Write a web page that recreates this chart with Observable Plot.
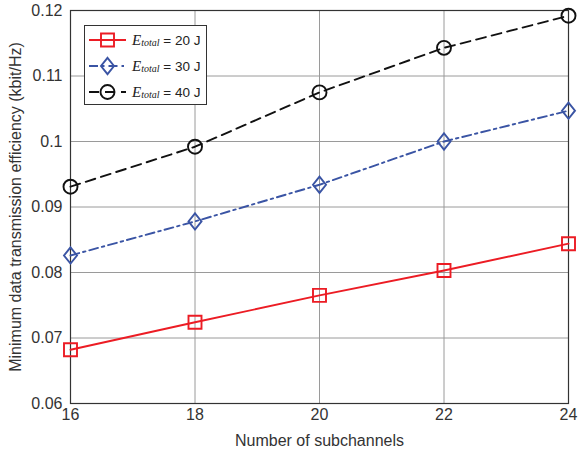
<!DOCTYPE html>
<html><head><meta charset="utf-8">
<script src="https://cdn.jsdelivr.net/npm/d3@7"></script>
<script src="https://cdn.jsdelivr.net/npm/@observablehq/plot@0.6"></script>
<style>
body{margin:0;background:#fff;}
#wrap{position:relative;width:578px;height:460px;font-family:"Liberation Sans",Arial,sans-serif;}
#legend{position:absolute;left:84px;top:25px;width:121px;height:78px;border:1px solid #333;background:#fff;box-sizing:content-box;}
.row{position:absolute;left:0;height:24px;width:121px;}
.row svg{position:absolute;left:0;top:0;}
.row .t{position:absolute;left:47px;top:4px;font-size:13.5px;color:#222;white-space:nowrap;}
.E{font-family:"Liberation Serif","Times New Roman",serif;font-style:italic;font-size:15px;}
.sub{font-family:"Liberation Serif","Times New Roman",serif;font-style:italic;font-size:10px;position:relative;top:1px;}
#chart g[aria-label="x-axis tick label"] text, #chart g[aria-label="y-axis tick label"] text{font-size:16px !important;}
#chart g[aria-label="x-axis label"] text, #chart g[aria-label="y-axis label"] text{font-size:16px !important;}
</style></head>
<body><div id="wrap"><div id="chart"></div><div id="legend"></div></div>
<script>
const subchannels = [16, 18, 20, 22, 24];
const e20 = [0.0682, 0.0724, 0.0765, 0.0803, 0.0844];
const e30 = [0.0826, 0.0878, 0.0934, 0.1000, 0.1047];
const e40 = [0.0931, 0.0992, 0.1075, 0.1143, 0.1192];
const seriesNames = ["20 J", "30 J", "40 J"];
const yTicks = [0.06, 0.07, 0.08, 0.09, 0.1, 0.11, 0.12];
const yTickLabels = ["0.06", "0.07", "0.08", "0.09", "0.1", "0.11", "0.12"];

const squareSym = {draw(ctx, size){const r=Math.sqrt(size/Math.PI); ctx.rect(-r,-r,2*r,2*r);}};
const diamondSym = {draw(ctx, size){const r=Math.sqrt(size/Math.PI); const h=r*1.25; ctx.moveTo(0,-h); ctx.lineTo(r,0); ctx.lineTo(0,h); ctx.lineTo(-r,0); ctx.closePath();}};
const circleSym = {draw(ctx, size){const r=Math.sqrt(size/Math.PI); ctx.moveTo(r,0); ctx.arc(0,0,r,0,2*Math.PI);}};

const styles = [
  {color:"#ec1c24", dash:null, sym:squareSym, r:6.5},
  {color:"#3a54a4", dash:"9,4,2.5,4", sym:diamondSym, r:6.5},
  {color:"#111111", dash:"10,6", sym:circleSym, r:7}
];
const series = [e20, e30, e40].map((vals,i)=>subchannels.map((x,j)=>({x, y: vals[j], s: seriesNames[i]})));

const marks = [
  Plot.gridY(yTicks, {stroke:"#9a9a9a", strokeOpacity:1, strokeWidth:1}),
  Plot.gridX(subchannels, {stroke:"#9a9a9a", strokeOpacity:1, strokeWidth:1}),
  Plot.frame({stroke:"#333", strokeWidth:1.2}),
  Plot.axisX(subchannels, {tickSize:0, tickPadding:5, label:null}),
  Plot.axisY(yTicks, {tickSize:0, tickPadding:8, tickFormat:(d)=>yTickLabels[yTicks.indexOf(d)], label:null}),
  Plot.axisX({tickSize:0, ticks:[], label:"Number of subchannels", labelAnchor:"center", labelArrow:"none", labelOffset:42}),
  Plot.axisY({tickSize:0, ticks:[], label:"Minimum data transmission efficiency (kbit/Hz)", labelAnchor:"center", labelArrow:"none", labelOffset:61})
];
series.forEach((d,i)=>{
  const st = styles[i];
  marks.push(Plot.line(d, {x:"x", y:"y", stroke:st.color, strokeWidth:1.9, strokeDasharray:st.dash}));
  marks.push(Plot.dot(d, {x:"x", y:"y", symbol:()=>st.sym, r:st.r, stroke:st.color, strokeWidth:1.9, fill:"none"}));
});

const chart = Plot.plot({
  width:578, height:460,
  marginLeft:70, marginRight:10, marginTop:10, marginBottom:57,
  style:{fontFamily:"Liberation Sans, Arial, sans-serif", fontSize:"16px", color:"#333", background:"#fff"},
  x:{domain:[16,24]},
  y:{domain:[0.06,0.12]},
  marks
});
document.getElementById("chart").appendChild(chart);

// legend
const leg = document.getElementById("legend");
styles.forEach((st,i)=>{
  const row = document.createElement("div");
  row.className="row"; row.style.top=(2+i*26)+"px";
  const svg = d3.create("svg").attr("width",44).attr("height",24);
  svg.append("line").attr("x1",4).attr("x2",41).attr("y1",12).attr("y2",12).attr("stroke",st.color).attr("stroke-width",1.9).attr("stroke-dasharray",st.dash);
  svg.append("path").attr("transform","translate(22.5,12)").attr("d",d3.symbol(st.sym, Math.PI*st.r*st.r)()).attr("fill","none").attr("stroke",st.color).attr("stroke-width",1.9);
  row.appendChild(svg.node());
  const t = document.createElement("div"); t.className="t";
  t.innerHTML = '<span class="E">E</span><span class="sub">total</span> = ' + seriesNames[i];
  row.appendChild(t);
  leg.appendChild(row);
});
</script></body></html>
